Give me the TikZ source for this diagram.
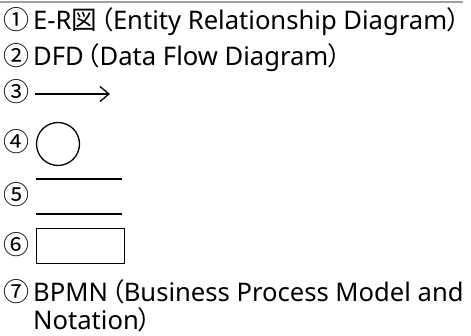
\documentclass[tikz,border=0pt]{standalone}
\usepackage{fontspec}
\setmainfont{Noto Sans}
\newfontfamily\cjkjp[RawFeature=+palt]{Noto Sans CJK JP}
\newfontfamily\cjknum{Noto Sans CJK JP}
\newcommand{\J}[1]{{\cjkjp #1}}
\newcommand{\Lp}{\kern3pt\J{（}}
\newcommand{\Rp}{\J{）}}
\usetikzlibrary{arrows.meta}
\begin{document}
\begin{tikzpicture}[x=1pt,y=-1pt,
  txt/.style={anchor=base west,inner sep=0pt,font=\fontsize{25.6}{29}\selectfont},
  num/.style={anchor=base,inner sep=0pt,font=\fontsize{26}{29}\cjknum},
  shp/.style={draw=black,line width=1.3pt}]
\useasboundingbox (0,0) rectangle (471,336);
\draw[line width=2pt,draw={rgb,255:red,160;green,160;blue,160}] (0,2) -- (463,2);
\node[num] (n1) at (17,30) {①};
\node[txt] (t1) at (33,30) {E-R\J{図}\Lp Entity Relationship Diagram\Rp};
\node[num] (n2) at (17,66) {②};
\node[txt] (t2) at (33,66) {DFD\Lp Data Flow Diagram\Rp};
\node[num] (n3) at (17,102) {③};
\coordinate (a1) at (35,94);
\coordinate (a2) at (110,94);
\draw[shp,-{Straight Barb[length=9pt,width=15pt,line width=1.3pt]}] (a1) -- (a2);
\node[num] (n4) at (17,152) {④};
\node[shp,circle,minimum size=43pt,inner sep=0pt] (c4) at (58,144) {};
\node[num] (n5) at (17,205) {⑤};
\coordinate (l1a) at (36,179); \coordinate (l1b) at (122,179);
\coordinate (l2a) at (36,214); \coordinate (l2b) at (122,214);
\draw[shp] (l1a) -- (l1b);
\draw[shp] (l2a) -- (l2b);
\node[num] (n6) at (17,255) {⑥};
\node[shp,rectangle,minimum width=88pt,minimum height=35pt,inner sep=0pt,anchor=north west] (r6) at (36,228) {};
\node[num] (n7) at (17,302) {⑦};
\node[txt] (t7) at (33,302) {BPMN\Lp Business Process Model and};
\node[txt] (t8) at (33,330) {Notation\Rp};
\end{tikzpicture}
\end{document}
